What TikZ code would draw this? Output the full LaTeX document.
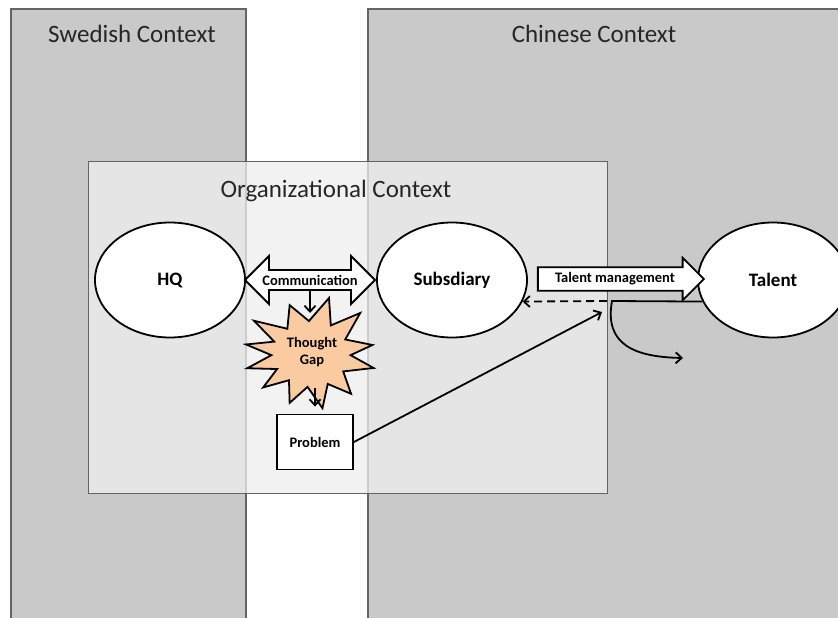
\documentclass[tikz,border=0pt]{standalone}
\usepackage{fontspec}
\setmainfont{Carlito}
\usepackage{tikz}
\usetikzlibrary{shapes.geometric,shapes.arrows,arrows.meta}
\definecolor{ctxgray}{RGB}{201,201,201}
\definecolor{ctxline}{RGB}{100,100,100}
\definecolor{orgfill}{RGB}{238,238,238}
\definecolor{gapfill}{RGB}{250,203,160}
\tikzset{
  actor/.style={ellipse, draw, fill=white, minimum width=150pt, minimum height=115pt, font=\fontsize{19}{22}\selectfont\bfseries},
  ctxlabel/.style={anchor=base, font=\fontsize{25}{30}\selectfont, text=black!85},
  smalltext/.style={font=\fontsize{14.5}{17}\selectfont\bfseries},
  blockarrow/.style={draw, fill=white, smalltext}
}
\newcommand{\ctxactornode}[3] {\node at (#1) (#2) [actor] {#3};}
\newcommand{\ctxflow}[2] {\draw [->] (#1) -- (#2);}

\begin{document}
\begin{tikzpicture}[x=1pt, y=-1pt, line width=1.8pt, >={Straight Barb[length=6pt,width=11pt]}]
\useasboundingbox (0,0) rectangle (838,618);

\filldraw [fill=ctxgray, draw=ctxline, line width=1.5pt] (11,640) -- (11,9) -- (246,9) -- (246,640);
\filldraw [fill=ctxgray, draw=ctxline, line width=1.5pt] (368,640) -- (368,9) -- (850,9) -- (850,640);
\node at (132,43) (swe) [ctxlabel] {Swedish Context};
\node at (594,43) (chn) [ctxlabel] {Chinese Context};

\filldraw [fill=orgfill, fill opacity=0.76, draw=ctxline, line width=1pt] (88,161) rectangle (607,493);
\node at (336,197) (org) [ctxlabel] {Organizational Context};

\ctxactornode {170,280}{hq}{HQ};
\ctxactornode {452,280}{sub}{Subsdiary};
\ctxactornode {773,280}{tal}{Talent};

\node at (310,280) (comm) [double arrow, blockarrow, minimum height=130pt, double arrow head extend=14pt, inner ysep=4pt] {Communication};

\coordinate (gapc) at (311,354);
\filldraw [fill=gapfill, shift={(gapc)}, xscale=1.2] (190:55)
  \foreach \a/\r in {202/33, 215/58, 232/32, 250/52, 267/33, 285/58, 300/33, 315/58, 333/32, 350/52, 362/33, 375/54, 393/32, 410/52, 425/33, 440/55, 455/33, 470/52, 485/32, 500/52, 512/32, 525/55, 538/33} { -- (\a:\r) } -- cycle;
\node at (312,352) (gap) [smalltext, align=center] {Thought\\Gap};

\node at (315,442) (prob) [draw, fill=white, minimum width=76pt, minimum height=55pt, smalltext] {Problem};

\node at (615,279) (tm) [single arrow, blockarrow, minimum height=166pt, single arrow head extend=9.5pt, inner ysep=4.5pt] {Talent management};

\coordinate (gapin) at (310,313);
\coordinate (gapout) at (315,388);
\coordinate (ret) at (602,312);
\coordinate (fb) at (607,301);
\coordinate (turn) at (612,301);
\coordinate (exit) at (683,358);

\ctxflow{comm.south}{gapin};
\draw [->, shorten >=7pt] (gapout) -- (prob.north);
\ctxflow{prob.east}{ret};
\draw [->, dash pattern=on 8pt off 5pt] (fb) -- (sub.-17);
\draw [->] (tal.197) -- (turn) .. controls (604,345) and (635,357) .. (exit);
\end{tikzpicture}
\end{document}
